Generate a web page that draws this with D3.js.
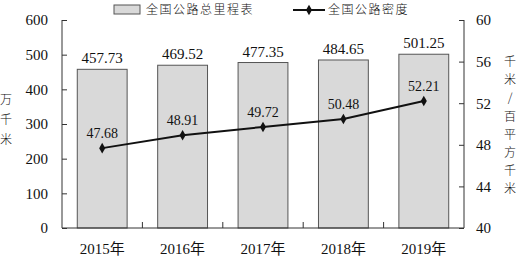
<!DOCTYPE html>
<html>
<head>
<meta charset="utf-8">
<script src="https://cdn.jsdelivr.net/npm/d3@7"></script>
<style>
  body { margin: 0; background: #fff; }
  svg text { font-family: "Liberation Serif", "Noto Sans CJK SC", serif; fill: #111; }
  svg text.cjk { font-family: "Noto Sans CJK SC", sans-serif; font-weight: 300; }
</style>
</head>
<body>
<figure id="chart" style="margin:0"></figure>
<script>
const years = ["2015年", "2016年", "2017年", "2018年", "2019年"];
const mileage = [457.73, 469.52, 477.35, 484.65, 501.25];
const density = [47.68, 48.91, 49.72, 50.48, 52.21];
const leftTicks = [0, 100, 200, 300, 400, 500, 600];
const rightTicks = [40, 44, 48, 52, 56, 60];

const width = 518, height = 256;
const plotL = 62, plotR = 464, plotT = 20, plotB = 228;

const svg = d3.select("#chart")
  .append("svg")
  .attr("width", width)
  .attr("height", height);

const x = d3.scaleBand()
  .domain(years)
  .range([plotL, plotR])
  .paddingInner(0.38)
  .paddingOuter(0.19);

const xEdge = d3.scaleLinear().domain([0, years.length]).range([plotL, plotR]);

const yL = d3.scaleLinear().domain([0, 600]).range([plotB, plotT]);
const yR = d3.scaleLinear().domain([40, 60]).range([plotB, plotT]);

// bars
svg.append("g").selectAll("rect")
  .data(mileage)
  .enter()
  .append("rect")
  .attr("x", (d, i) => x(years[i]))
  .attr("y", d => yL(d))
  .attr("width", x.bandwidth())
  .attr("height", d => yL(0) - yL(d))
  .attr("fill", "#d9d9d9")
  .attr("stroke", "#555")
  .attr("stroke-width", 1);

// bar labels
svg.append("g").selectAll("text")
  .data(mileage)
  .enter()
  .append("text")
  .attr("x", (d, i) => x(years[i]) + x.bandwidth() / 2)
  .attr("y", d => yL(d) - 6)
  .attr("text-anchor", "middle")
  .attr("font-size", 15)
  .text(d => d.toFixed(2));

// left axis
const axL = svg.append("g")
  .attr("transform", "translate(" + plotL + ",0)")
  .call(d3.axisRight(yL).tickValues(leftTicks).tickSize(5).tickFormat(d3.format("d")));
axL.select(".domain").attr("stroke", "#333").attr("d", "M0," + plotT + "V" + plotB);
axL.selectAll(".tick line").attr("stroke", "#333");
axL.selectAll(".tick text")
  .attr("x", -14)
  .attr("text-anchor", "end")
  .attr("font-size", 15);

// right axis
const axR = svg.append("g")
  .attr("transform", "translate(" + plotR + ",0)")
  .call(d3.axisLeft(yR).tickValues(rightTicks).tickSize(5).tickFormat(d3.format("d")));
axR.select(".domain").attr("stroke", "#333").attr("d", "M0," + plotT + "V" + plotB);
axR.selectAll(".tick line").attr("stroke", "#333");
axR.selectAll(".tick text")
  .attr("x", 12)
  .attr("text-anchor", "start")
  .attr("font-size", 15);

// bottom axis
svg.append("line")
  .attr("x1", plotL).attr("x2", plotR)
  .attr("y1", plotB).attr("y2", plotB)
  .attr("stroke", "#333");
svg.append("g").selectAll("line")
  .data(d3.range(1, years.length))
  .enter()
  .append("line")
  .attr("x1", d => xEdge(d)).attr("x2", d => xEdge(d))
  .attr("y1", plotB).attr("y2", plotB - 6)
  .attr("stroke", "#333");
svg.append("g").selectAll("text")
  .data(years)
  .enter()
  .append("text")
  .attr("x", d => x(d) + x.bandwidth() / 2)
  .attr("y", 254)
  .attr("text-anchor", "middle")
  .attr("font-size", 15)
  .text(d => d);

// density line
const line = d3.line()
  .x((d, i) => x(years[i]) + x.bandwidth() / 2)
  .y(d => yR(d));
svg.append("path")
  .datum(density)
  .attr("d", line)
  .attr("fill", "none")
  .attr("stroke", "#111")
  .attr("stroke-width", 2);

const diamond = d3.symbol().type(d3.symbolDiamond).size(32);
svg.append("g").selectAll("path")
  .data(density)
  .enter()
  .append("path")
  .attr("d", diamond)
  .attr("transform", (d, i) => "translate(" + (x(years[i]) + x.bandwidth() / 2) + "," + yR(d) + ")")
  .attr("fill", "#111");

svg.append("g").selectAll("text")
  .data(density)
  .enter()
  .append("text")
  .attr("x", (d, i) => x(years[i]) + x.bandwidth() / 2)
  .attr("y", d => yR(d) - 10)
  .attr("text-anchor", "middle")
  .attr("font-size", 14)
  .text(d => d.toFixed(2));

// axis titles
svg.append("g").selectAll("text")
  .data(["万", "千", "米"])
  .enter()
  .append("text")
  .attr("class", "cjk")
  .attr("x", 6)
  .attr("y", (d, i) => 104 + i * 20)
  .attr("text-anchor", "middle")
  .attr("font-size", 12)
  .text(d => d);

svg.append("g").selectAll("text")
  .data(["千", "米", "/", "百", "平", "方", "千", "米"])
  .enter()
  .append("text")
  .attr("class", "cjk")
  .attr("x", 510)
  .attr("y", (d, i) => 66 + i * 18.2)
  .attr("text-anchor", "middle")
  .attr("font-size", 12)
  .text(d => d);

// legend
const lg = svg.append("g");
lg.append("rect")
  .attr("x", 114).attr("y", 5)
  .attr("width", 26).attr("height", 9)
  .attr("fill", "#d9d9d9").attr("stroke", "#555");
lg.append("text")
  .attr("class", "cjk")
  .attr("x", 146).attr("y", 14)
  .attr("font-size", 12)
  .attr("letter-spacing", 1.5)
  .text("全国公路总里程表");
lg.append("line")
  .attr("x1", 293).attr("x2", 325)
  .attr("y1", 10).attr("y2", 10)
  .attr("stroke", "#111").attr("stroke-width", 2);
lg.append("path")
  .attr("d", diamond)
  .attr("transform", "translate(309,10)")
  .attr("fill", "#111");
lg.append("text")
  .attr("class", "cjk")
  .attr("x", 328).attr("y", 14)
  .attr("font-size", 12)
  .attr("letter-spacing", 1.5)
  .text("全国公路密度");
</script>
</body>
</html>
